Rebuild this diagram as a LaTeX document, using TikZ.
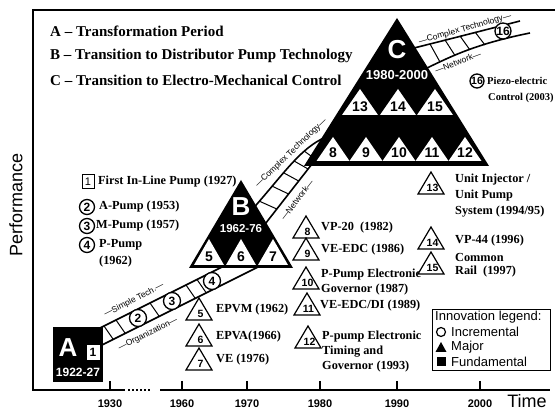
\documentclass[tikz,border=0pt]{standalone}
\usepackage{fontspec}
\setmainfont{Liberation Serif}
\setsansfont{Liberation Sans}
\newcommand\itri[4]{%
  \draw[otri] ({#2-13},{#3+22}) -- ({#2+13},{#3+22}) -- (#2,#3) -- cycle;
  \node[trinum] (#1) at ({#2+1.5},{#3+15.5}) {#4};}
\newcommand\wtri[6]{%
  \fill[white] ({#2-#5},#4) -- ({#2+#5},#4) -- (#2,#3) -- cycle;
  \node[bignum] (#1) at (#2,{#4-8}) {#6};}
\begin{document}
\begin{tikzpicture}[x=1pt,y=-1pt,
  frame/.style={line width=2pt},
  bandline/.style={line width=1.6pt},
  hatch/.style={line width=1pt},
  hdr/.style={font=\fontsize{15}{18}\selectfont\bfseries, anchor=west, inner sep=0pt},
  lst/.style={font=\fontsize{12.3}{14}\selectfont\bfseries, anchor=west, inner sep=0pt},
  smalllst/.style={font=\fontsize{10.5}{12}\selectfont\bfseries, anchor=west, inner sep=0pt},
  sans/.style={font=\fontsize{#1}{#1}\selectfont\sffamily, inner sep=0pt},
  bsans/.style={font=\fontsize{#1}{#1}\selectfont\sffamily\bfseries, inner sep=0pt},
  bandlbl/.style={font=\fontsize{8.5}{9}\selectfont\sffamily, inner sep=0pt},
  otri/.style={line width=1.2pt, fill=white},
  trinum/.style={font=\fontsize{10.5}{11}\selectfont\sffamily\bfseries, inner sep=0pt},
  bignum/.style={font=\fontsize{14}{14}\selectfont\sffamily\bfseries, inner sep=0pt},
  whitetxt/.style={text=white, font=\fontsize{#1}{#1}\selectfont\sffamily\bfseries, inner sep=0pt},
  circnum/.style={circle, draw, fill=white, line width=1.3pt, minimum size=#1, inner sep=0pt,
                  font=\fontsize{12}{12}\selectfont\sffamily\bfseries},
]
\useasboundingbox (0,0) rectangle (555,411);
\fill[white] (0,0) rectangle (555,411);

% frame and axis
\draw[frame] (555,10) -- (33,10) -- (33,390) -- (125,390);
\draw[frame, dotted] (128,390) -- (151,390);
\draw[frame] (160,390) -- (550,390);
\foreach \t/\lab in {110/1930,182/1960,247/1970,320/1980,397/1990,480/2000}{
  \draw[line width=1.5pt] (\t,381) -- (\t,391);
  \node[bsans=11] (yr\lab) at (\t,404) {\lab};
}
\node[sans=18] (time) at (527,401) {Time};
\node[sans=18, rotate=90] (perf) at (16,205) {Performance};

% headers
\node[hdr] (hA) at (50,31) {A -- Transformation Period};
\node[hdr] (hB) at (50,56) {B -- Transition to Distributor Pump Technology};
\node[hdr] (hC) at (50,80) {C -- Transition to Electro-Mechanical Control};

% band 1 (A -> B)
\draw[bandline] (80,338) -- (222,267);
\draw[bandline] (95,348.5) -- (258,267);
\foreach \h in {104,116,150,186,197}
  \draw[hatch] (\h,{378-0.5*\h}) -- ({\h+9},{391-0.5*\h});
\node[bandlbl, rotate=27] (simple) at (134,300) {\textemdash Simple Tech.\textemdash};
\node[bandlbl, rotate=27] (org) at (148,334) {\textemdash Organization\textemdash};

% band 2 (B -> C)
\draw[bandline] (250,212) .. controls (283,175) and (300,148) .. (326,137);
\draw[bandline] (262,228) -- (312,164);
\draw[hatch] (259.4,201.2) -- (276.8,209);
\draw[hatch] (272.2,186.2) -- (288.6,194);
\draw[hatch] (283.6,172.8) -- (298.7,181);
\draw[hatch] (294.1,161) -- (308.1,169);
\draw[hatch] (304.3,151.1) -- (315,159);
\node[bandlbl, rotate=44] (cplx1) at (291,153) {\textemdash Complex Technology\textemdash};
\node[bandlbl, rotate=52] (net1) at (297,200) {\textemdash Network\textemdash};

% band 3 (C -> 16)
\draw[bandline] (414,48) .. controls (450,39) and (485,30) .. (520,21);
\draw[bandline] (427,68) .. controls (450,57) and (475,44) .. (530,33);
\draw[hatch] (430,44) -- (440,62);
\draw[hatch] (445,40) -- (455,55.5);
\draw[hatch] (460,36) -- (470,50);
\draw[hatch] (475,32) -- (485,45);
\node[bandlbl, rotate=16] (cplx2) at (465,29) {\textemdash Complex Technology\textemdash};
\node[bandlbl, rotate=20] (net2) at (458,62) {\textemdash Network\textemdash};
\node[circnum=16pt] (c16b) at (503,31) {16};

% block A
\fill[black] (53,327) rectangle (103,382);
\node[whitetxt=26] (Alet) at (68,348) {A};
\node[draw=black, fill=white, minimum width=14pt, minimum height=16pt, inner sep=0pt,
      font=\fontsize{12}{12}\selectfont\sffamily\bfseries] (sq1b) at (93,352) {1};
\node[whitetxt=12] (Ayr) at (78,372) {1922-27};

% circles on band 1
\node[circnum=17pt] (c2b) at (138,318) {2};
\node[circnum=17pt] (c3b) at (172,301) {3};
\node[circnum=17pt] (c4b) at (212,281) {4};

% triangle B
\fill[black] (241,180) -- (293,268) -- (189,268) -- cycle;
\node[whitetxt=26] (Blet) at (241,207) {B};
\node[whitetxt=11.5] (Byr) at (241,229) {1962-76};
\wtri{w5}{209}{239}{265}{15}{5}
\wtri{w6}{241}{239}{265}{15}{6}
\wtri{w7}{273}{239}{265}{15}{7}

% triangle C
\fill[black] (397,18) -- (489,166) -- (304,166) -- cycle;
\node[whitetxt=26] (Clet) at (397,50) {C};
\node[whitetxt=13] (Cyr) at (397,75) {1980-2000};
\wtri{w13}{360}{89}{115}{18}{13}
\wtri{w14}{398}{89}{115}{18}{14}
\wtri{w15}{435}{89}{115}{18}{15}
\wtri{w8}{333}{137}{161}{16.5}{8}
\wtri{w9}{366}{137}{161}{16.5}{9}
\wtri{w10}{399}{137}{161}{16.5}{10}
\wtri{w11}{432}{137}{161}{16.5}{11}
\wtri{w12}{465}{137}{161}{16.5}{12}

% left list
\node[draw=black, line width=1pt, minimum width=12pt, minimum height=14pt, inner sep=0pt,
      font=\fontsize{11}{11}\selectfont\sffamily] (sq1) at (88,182) {1};
\node[lst] (t1) at (98,182) {First In-Line Pump (1927)};
\node[circnum=15pt] (c2) at (87,207) {2};
\node[lst] (t2) at (99,207) {A-Pump (1953)};
\node[circnum=15pt] (c3) at (87,226) {3};
\node[lst] (t3) at (96,226) {M-Pump (1957)};
\node[circnum=15pt] (c4) at (87,245) {4};
\node[lst] (t4) at (99,245) {P-Pump};
\node[lst] (t4b) at (99,262) {(1962)};

% B items
\itri{n5}{199}{298}{5}
\node[lst] (t5) at (216,310) {EPVM (1962)};
\itri{n6}{199}{324}{6}
\node[lst] (t6) at (216,337) {EPVA(1966)};
\itri{n7}{199}{348}{7}
\node[lst] (t7) at (216,360) {VE (1976)};

% C items (bottom row)
\itri{n8}{306}{216}{8}
\node[lst] (t8) at (321,228) {VP-20\ \ (1982)};
\itri{n9}{306}{238}{9}
\node[lst] (t9) at (321,250) {VE-EDC (1986)};
\itri{n10}{306}{267}{10}
\node[lst] (t10a) at (321,275) {P-Pump Electronic};
\node[lst] (t10b) at (321,290) {Governor (1987)};
\itri{n11}{307}{293}{11}
\node[lst] (t11) at (320,306) {VE-EDC/DI (1989)};
\itri{n12}{308}{326}{12}
\node[lst] (t12a) at (322,337) {P-pump Electronic};
\node[lst] (t12b) at (322,352) {Timing and};
\node[lst] (t12c) at (322,367) {Governor (1993)};

% C items (top row)
\itri{n13}{431}{172}{13}
\node[lst] (t13a) at (455,180) {Unit Injector /};
\node[lst] (t13b) at (455,196) {Unit Pump};
\node[lst] (t13c) at (455,212) {System (1994/95)};
\itri{n14}{431}{227}{14}
\node[lst] (t14) at (455,241) {VP-44 (1996)};
\itri{n15}{431}{252}{15}
\node[lst] (t15a) at (455,257) {Common};
\node[lst] (t15b) at (455,272) {Rail\ \ (1997)};

% 16
\node[circnum=14pt, font=\fontsize{10.5}{10.5}\selectfont\sffamily\bfseries] (c16) at (477,81) {16};
\node[smalllst] (t16a) at (487,81) {Piezo-electric};
\node[smalllst] (t16b) at (488,98) {Control (2003)};

% legend
\node[draw, line width=1pt, minimum width=118pt, minimum height=61pt, inner sep=0pt,
      anchor=north west] (legbox) at (432,309) {};
\node[sans=13, anchor=west] (legt) at (435,317) {Innovation legend:};
\draw[line width=1.2pt] (441,332) circle (4.5);
\node[sans=13, anchor=west] (leg1) at (451,332) {Incremental};
\fill (435.5,352) -- (446.5,352) -- (441,342) -- cycle;
\node[sans=13, anchor=west] (leg2) at (451,347) {Major};
\fill (436.5,357.5) rectangle (445.5,366.5);
\node[sans=13, anchor=west] (leg3) at (451,362) {Fundamental};
\end{tikzpicture}
\end{document}
